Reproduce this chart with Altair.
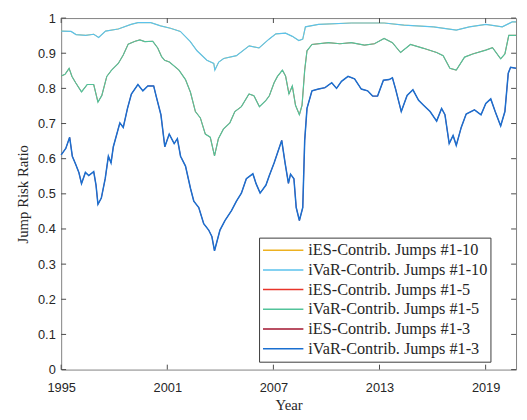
import altair as alt
import pandas as pd

# ---- data ----
years_10 = [1995.00, 1995.56, 1995.84, 1996.39, 1996.84, 1997.12, 1997.51, 1998.23, 1998.95, 1999.34,
            2000.07, 2000.62, 2001.18, 2001.74, 2002.29, 2002.68, 2003.24, 2003.63, 2003.69, 2003.91,
            2004.19, 2004.91, 2005.63, 2006.19, 2006.75, 2007.14, 2007.69, 2008.07, 2008.44, 2008.66,
            2008.81, 2009.55, 2011.41, 2013.26, 2014.38, 2016.05, 2017.34, 2018.08, 2019.01, 2019.94,
            2020.50, 2020.72]
ivar_10 = [0.963, 0.962, 0.953, 0.951, 0.954, 0.945, 0.963, 0.969, 0.982, 0.987,
           0.987, 0.978, 0.971, 0.962, 0.934, 0.907, 0.880, 0.871, 0.852, 0.875,
           0.885, 0.893, 0.921, 0.915, 0.940, 0.955, 0.957, 0.948, 0.936, 0.940,
           0.975, 0.982, 0.986, 0.986, 0.980, 0.975, 0.966, 0.975, 0.982, 0.975,
           0.989, 0.989]
ies_10 = list(ivar_10)

years_5 = [1995.00, 1995.22, 1995.45, 1995.61, 1995.82, 1996.15, 1996.47, 1996.84, 1997.08, 1997.30,
           1997.58, 1997.85, 1998.23, 1998.51, 1998.79, 1999.18, 1999.45, 1999.73, 2000.18, 2000.46,
           2000.68, 2000.85, 2001.12, 2001.66, 2002.03, 2002.31, 2002.59, 2002.87, 2003.15, 2003.43,
           2003.67, 2003.89, 2004.17, 2004.54, 2004.82, 2005.19, 2005.62, 2005.90, 2006.21, 2006.58,
           2006.77, 2007.04, 2007.23, 2007.51, 2007.69, 2007.88, 2008.07, 2008.25, 2008.47, 2008.62,
           2008.77, 2008.90, 2009.18, 2010.11, 2010.76, 2011.41, 2012.15, 2012.71, 2013.26, 2013.73,
           2014.19, 2014.75, 2015.49, 2016.23, 2016.60, 2016.98, 2017.34, 2017.81, 2018.27, 2019.01,
           2019.39, 2019.85, 2020.09, 2020.31, 2020.72]
ivar_5 = [0.835, 0.840, 0.857, 0.834, 0.816, 0.790, 0.811, 0.811, 0.761, 0.780,
          0.834, 0.852, 0.871, 0.895, 0.926, 0.934, 0.938, 0.933, 0.934, 0.915,
          0.890, 0.880, 0.875, 0.852, 0.825, 0.789, 0.734, 0.716, 0.670, 0.661,
          0.608, 0.657, 0.684, 0.702, 0.734, 0.748, 0.784, 0.779, 0.748, 0.766,
          0.779, 0.816, 0.834, 0.852, 0.835, 0.784, 0.807, 0.752, 0.725, 0.752,
          0.852, 0.907, 0.925, 0.930, 0.927, 0.930, 0.923, 0.927, 0.942, 0.930,
          0.902, 0.925, 0.914, 0.902, 0.893, 0.857, 0.852, 0.889, 0.898, 0.909,
          0.916, 0.884, 0.898, 0.951, 0.951]
ies_5 = list(ivar_5)

years_3 = [1995.00, 1995.26, 1995.48, 1995.63, 1995.82, 1996.00, 1996.15, 1996.37, 1996.56, 1996.84,
           1996.97, 1997.08, 1997.27, 1997.49, 1997.67, 1997.82, 1997.95, 1998.32, 1998.51, 1998.75,
           1998.97, 1999.34, 1999.62, 1999.90, 2000.23, 2000.36, 2000.64, 2000.86, 2001.11, 2001.39,
           2001.57, 2001.75, 2002.03, 2002.31, 2002.50, 2002.78, 2003.06, 2003.34, 2003.52, 2003.67,
           2003.98, 2004.26, 2004.63, 2004.91, 2005.19, 2005.47, 2005.84, 2006.02, 2006.25, 2006.58,
           2006.77, 2007.04, 2007.23, 2007.47, 2007.66, 2007.85, 2007.97, 2008.16, 2008.29, 2008.47,
           2008.66, 2008.77, 2008.90, 2009.18, 2009.55, 2009.92, 2010.30, 2010.57, 2010.85, 2011.22,
           2011.59, 2011.97, 2012.33, 2012.61, 2012.89, 2013.22, 2013.54, 2013.73, 2013.91, 2014.23,
           2014.56, 2014.89, 2015.21, 2015.49, 2015.86, 2016.23, 2016.51, 2016.70, 2016.94, 2017.16,
           2017.34, 2017.62, 2017.90, 2018.37, 2018.74, 2019.01, 2019.29, 2019.54, 2019.85, 2020.09,
           2020.28, 2020.41, 2020.72]
ivar_3 = [0.611, 0.629, 0.661, 0.607, 0.584, 0.561, 0.529, 0.561, 0.552, 0.563,
          0.525, 0.470, 0.488, 0.543, 0.607, 0.588, 0.634, 0.702, 0.689, 0.743,
          0.784, 0.811, 0.793, 0.807, 0.807, 0.780, 0.725, 0.634, 0.670, 0.643,
          0.657, 0.607, 0.579, 0.516, 0.479, 0.461, 0.415, 0.397, 0.379, 0.338,
          0.397, 0.424, 0.452, 0.479, 0.502, 0.543, 0.557, 0.529, 0.502, 0.525,
          0.552, 0.588, 0.616, 0.652, 0.588, 0.530, 0.556, 0.543, 0.461, 0.424,
          0.461, 0.652, 0.743, 0.793, 0.798, 0.802, 0.816, 0.800, 0.820, 0.834,
          0.827, 0.798, 0.793, 0.778, 0.778, 0.823, 0.825, 0.830, 0.798, 0.734,
          0.780, 0.796, 0.766, 0.752, 0.734, 0.707, 0.743, 0.725, 0.643, 0.666,
          0.638, 0.689, 0.727, 0.739, 0.725, 0.757, 0.770, 0.734, 0.693, 0.734,
          0.843, 0.860, 0.857]
ies_3 = list(ivar_3)

series_names = ["iES-Contrib. Jumps #1-10", "iVaR-Contrib. Jumps #1-10",
                "iES-Contrib. Jumps #1-5", "iVaR-Contrib. Jumps #1-5",
                "iES-Contrib. Jumps #1-3", "iVaR-Contrib. Jumps #1-3"]
series_colors = ["#EDB120", "#5BC2EC", "#E8342A", "#52C39A", "#A2142F", "#1A6FD0"]
series_data = [(years_10, ies_10), (years_10, ivar_10), (years_5, ies_5),
               (years_5, ivar_5), (years_3, ies_3), (years_3, ivar_3)]
series_widths = [0.8, 1.2, 0.8, 1.2, 0.8, 1.5]

x_ticks = [1995, 2001, 2007, 2013, 2019]
y_ticks = [0.0, 0.1, 0.2, 0.3, 0.4, 0.5, 0.6, 0.7, 0.8, 0.9, 1.0]
x_range = [1995, 2020.72]

W, H = 462, 357

rows = []
for name, (yrs, vals) in zip(series_names, series_data):
    for yr, v in zip(yrs, vals):
        rows.append({"series": name, "year": yr, "value": v})
df = pd.DataFrame(rows)

color_scale = alt.Scale(domain=series_names, range=series_colors)
legend = alt.Legend(title=None, orient="none", legendX=201, legendY=223,
                    symbolType="stroke", symbolSize=1681, symbolStrokeWidth=1.5,
                    clipHeight=19.5, rowPadding=0, labelOffset=4, labelLimit=400,
                    labelFont="Liberation Serif", labelFontSize=16.5, labelColor="#262626",
                    fillColor="white", strokeColor="#3a3a3a", padding=3)

x_axis = alt.Axis(values=x_ticks, format="d", title="Year", ticks=False, domain=False,
                  grid=False, labelPadding=12, labelFlush=False, titleY=36, titleBaseline="middle")
y_axis = alt.Axis(values=y_ticks, format=".1~f", title="Jump Risk Ratio", ticks=False,
                  domain=False, grid=False, labelPadding=6, labelFlush=False, titleX=-39,
                  titleY=H / 2, titleBaseline="middle", titleAngle=-90)
x_scale = alt.Scale(domain=x_range, nice=False, zero=False)
y_scale = alt.Scale(domain=[0, 1], nice=False)
x_enc = alt.X("year:Q", scale=x_scale, axis=x_axis)
y_enc = alt.Y("value:Q", scale=y_scale, axis=y_axis)

layers = []
for name, sw in zip(series_names, series_widths):
    layers.append(
        alt.Chart(df).transform_filter(alt.datum.series == name)
        .mark_line(strokeWidth=sw)
        .encode(x=x_enc, y=y_enc,
                color=alt.Color("series:N", scale=color_scale, legend=legend))
    )

xt = pd.DataFrame({"year": x_ticks})
yt = pd.DataFrame({"value": y_ticks})
tick_color = "#4a4a4a"
layers.append(alt.Chart(xt).mark_rule(color=tick_color, strokeWidth=1)
              .encode(x=x_enc, y=alt.value(H), y2=alt.value(H - 5)))
layers.append(alt.Chart(xt).mark_rule(color=tick_color, strokeWidth=1)
              .encode(x=x_enc, y=alt.value(0), y2=alt.value(5)))
layers.append(alt.Chart(yt).mark_rule(color=tick_color, strokeWidth=1)
              .encode(y=y_enc, x=alt.value(0), x2=alt.value(5)))
layers.append(alt.Chart(yt).mark_rule(color=tick_color, strokeWidth=1)
              .encode(y=y_enc, x=alt.value(W - 5), x2=alt.value(W)))

chart = alt.layer(*layers).properties(
    width=W, height=H,
    autosize=alt.AutoSizeParams(type="none"),
    padding={"left": 54, "top": 7, "right": 3, "bottom": 50},
).configure_view(stroke="#808080", strokeWidth=1).configure_axis(
    labelFont="Liberation Sans", labelFontSize=13, labelColor="#262626",
    titleFont="Liberation Serif", titleFontSize=15, titleFontWeight="normal", titleColor="#262626",
)

chart.save("out.html", embed_options={"renderer": "svg", "actions": False})
